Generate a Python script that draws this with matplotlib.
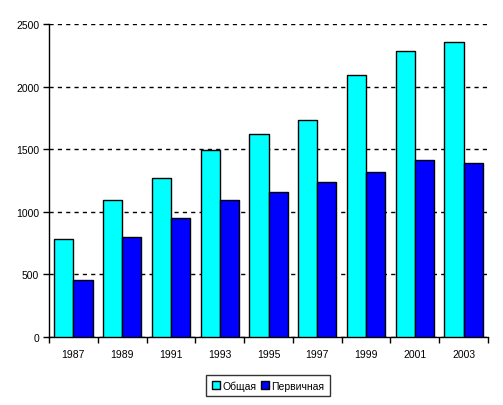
import numpy as np
import matplotlib.pyplot as plt

years = ['1987', '1989', '1991', '1993', '1995', '1997', '1999', '2001', '2003']
total = [780, 1092, 1267, 1494, 1619, 1731, 2090, 2282, 2353]
primary = [455, 796, 948, 1092, 1156, 1236, 1315, 1411, 1387]

plt.rcParams['font.family'] = ['Liberation Sans', 'DejaVu Sans']
plt.rcParams['font.size'] = 7.5

fig = plt.figure(figsize=(5.03, 4.06), dpi=100)
ax = fig.add_axes([49 / 503, 68 / 406, 439 / 503, 313 / 406])

x = np.arange(len(years))
w = 0.394
ax.bar(x - w / 2, total, w, color='#00ffff', edgecolor='black', linewidth=1, label='Общая', zorder=3)
ax.bar(x + w / 2, primary, w, color='#0000ff', edgecolor='black', linewidth=1, label='Первичная', zorder=3)

ax.set_xlim(-0.5, len(years) - 0.5)
ax.set_ylim(0, 2500)
ax.set_yticks(range(0, 2501, 500))
ax.yaxis.grid(True, linestyle=(0, (3, 3)), color='black', linewidth=1)
ax.set_axisbelow(True)

# ticks at category boundaries, labels in the middle
ax.set_xticks(np.arange(-0.5, len(years), 1))
ax.set_xticklabels([])
ax.set_xticks(x, minor=True)
ax.set_xticklabels(years, minor=True)
ax.tick_params(axis='x', which='minor', length=0, pad=9)
ax.tick_params(axis='x', which='major', length=4, width=1, direction='out')
ax.tick_params(axis='y', length=4, width=1, direction='out', pad=3)

for s in ['top', 'right']:
    ax.spines[s].set_visible(False)
for s in ['left', 'bottom']:
    ax.spines[s].set_linewidth(1)

leg = fig.legend(loc='center', bbox_to_anchor=(268 / 503, 1 - 386.5 / 406), ncol=2,
                 frameon=True, fancybox=False, edgecolor='black', handlelength=0.8,
                 handleheight=0.8, handletextpad=0.2, columnspacing=0.4,
                 borderpad=0.55, borderaxespad=0)
leg.get_frame().set_linewidth(1)

fig.savefig('out.png', dpi=100)
